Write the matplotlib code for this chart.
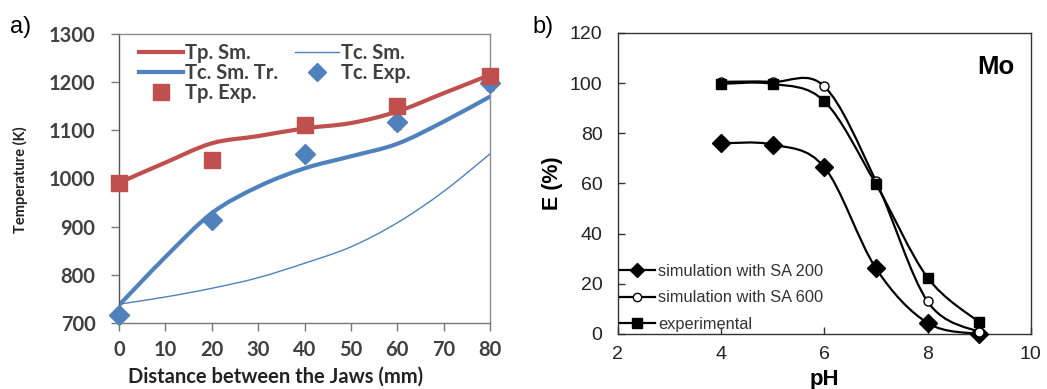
import matplotlib
matplotlib.use('Agg')
import matplotlib.pyplot as plt
from matplotlib.path import Path
from matplotlib.patches import PathPatch
from matplotlib.lines import Line2D
import numpy as np

# ---- panel a data (temperature vs distance) ----
dist_curve = [0, 10, 20, 30, 40, 50, 60, 70, 80]
tp_sm = [991, 1033, 1073, 1088, 1104, 1115, 1139, 1177, 1215]
tc_sm = [739, 754, 772, 794, 824, 858, 908, 973, 1051]
tc_sm_tr = [737, 837, 928, 983, 1021, 1046, 1072, 1118, 1170]

dist_exp = [0, 20, 40, 60, 80]
tp_exp = [991, 1039, 1110, 1151, 1212]
tp_err = [8, 8, 10, 12, 10]
tc_exp = [716, 914, 1051, 1118, 1198]
tc_err = [10, 12, 12, 15, 15]

# ---- panel b data (extraction vs pH) ----
ph = [4, 5, 6, 7, 8, 9]
sa200 = [76, 75.5, 66.5, 26.2, 4.4, 0]
sa600 = [100.5, 100.5, 98.7, 61, 13, 0.7]
exper = [99.7, 99.7, 92.8, 59.8, 22.5, 4.7]

RED = '#C0504D'
BLUE = '#4F81BD'
GRAY_TXT = '#404040'


def smooth_path(x, y):
    # excel-style smoothed line: cubic bezier through the points
    p = np.column_stack([x, y]).astype(float)
    n = len(p)
    verts = [p[0]]
    codes = [Path.MOVETO]
    for i in range(n - 1):
        p0 = p[max(i - 1, 0)]
        p3 = p[min(i + 2, n - 1)]
        c1 = p[i] + (p[i + 1] - p0) / 6.0
        c2 = p[i + 1] - (p3 - p[i]) / 6.0
        verts += [c1, c2, p[i + 1]]
        codes += [Path.CURVE4] * 3
    return Path(np.array(verts), codes)


def add_smooth(ax, x, y, color, lw, zorder=2):
    ax.add_patch(PathPatch(smooth_path(x, y), facecolor='none', edgecolor=color,
                           lw=lw, zorder=zorder, capstyle='round'))


fig = plt.figure(figsize=(10.47, 3.89), dpi=100)

# ================= panel a =================
ax1 = fig.add_axes([0.1137, 0.1697, 0.3543, 0.743])
add_smooth(ax1, dist_curve, tc_sm, BLUE, 1.0)
add_smooth(ax1, dist_curve, tc_sm_tr, BLUE, 3.0)
add_smooth(ax1, dist_curve, tp_sm, RED, 3.0)
eb1 = ax1.errorbar(dist_exp, tc_exp, yerr=tc_err, fmt='D', color=BLUE, ms=10,
                   ecolor='#222222', elinewidth=1.2, capsize=3, zorder=4)
eb2 = ax1.errorbar(dist_exp, tp_exp, yerr=tp_err, fmt='s', color=RED, ms=11.5,
                   ecolor='#222222', elinewidth=1.2, capsize=3, zorder=5)
for eb in (eb1, eb2):
    for art in eb.lines[0:1] + eb.lines[1] + eb.lines[2]:
        art.set_clip_on(False)

ax1.set_xlim(0, 80)
ax1.set_ylim(700, 1300)
ax1.set_xticks(range(0, 81, 10))
ax1.set_yticks(range(700, 1301, 100))
for s in ax1.spines.values():
    s.set_color('#8c8c8c')
    s.set_linewidth(1.0)
ax1.spines['left'].set_color('#555555')
ax1.spines['bottom'].set_color('#777777')
ax1.tick_params(axis='both', direction='out', length=6, width=1, color='#777777',
                labelsize=14.5, labelcolor=GRAY_TXT)
ax1.tick_params(axis='y', pad=11)
ax1.tick_params(axis='x', pad=6)
for lab in ax1.get_xticklabels() + ax1.get_yticklabels():
    lab.set_fontfamily('Lato')
    lab.set_fontweight('bold')
ax1.set_xlabel('Distance between the Jaws (mm)', fontsize=14.5, fontweight='bold',
               family='Lato', color='#222222')
ax1.xaxis.set_label_coords(0.423, -0.15)
ax1.set_ylabel('Temperature (K)', fontsize=10.5, fontweight='bold',
               family='Lato', color='#222222')
ax1.yaxis.set_label_coords(-0.245, 0.495)

h_tpsm = Line2D([], [], color=RED, lw=3.0)
h_tcsm = Line2D([], [], color=BLUE, lw=1.0)
h_tcsmtr = Line2D([], [], color=BLUE, lw=3.0)
h_tcexp = Line2D([], [], color=BLUE, marker='D', ls='none', ms=9)
h_tpexp = Line2D([], [], color=RED, marker='s', ls='none', ms=11)
leg1 = ax1.legend([h_tpsm, h_tcsmtr, h_tpexp, h_tcsm, h_tcexp],
                  ['Tp. Sm.', 'Tc. Sm. Tr.', 'Tp. Exp.', 'Tc. Sm.', 'Tc. Exp.'],
                  ncol=2, loc='upper left', bbox_to_anchor=(0.005, 1.03), frameon=False,
                  prop={'family': 'Lato', 'size': 14.5, 'weight': 'bold'},
                  handlelength=2.2, handletextpad=0.1, columnspacing=0.8,
                  labelspacing=0.0)
for t in leg1.get_texts():
    t.set_color(GRAY_TXT)

# ================= panel b =================
ax2 = fig.add_axes([0.590, 0.1414, 0.3945, 0.774])
add_smooth(ax2, ph, sa200, 'black', 1.6)
add_smooth(ax2, ph, sa600, 'black', 1.6)
add_smooth(ax2, ph, exper, 'black', 1.6)
ax2.plot(ph, sa200, 'D', color='black', ms=9, ls='none', zorder=4, clip_on=False)
ax2.plot(ph, sa600, 'o', mfc='white', mec='black', mew=1.0, ms=6.5, ls='none',
         zorder=4, clip_on=False)
ax2.plot(ph, exper, 's', color='black', ms=7, ls='none', zorder=4, clip_on=False)

ax2.set_xlim(2, 10)
ax2.set_ylim(0, 120)
ax2.set_xticks(range(2, 11, 2))
ax2.set_yticks(range(0, 121, 20))
for s in ax2.spines.values():
    s.set_color('#333333')
    s.set_linewidth(1.0)
ax2.tick_params(axis='both', direction='in', length=5, width=1, color='#333333',
                labelsize=14, labelcolor='#222222')
ax2.tick_params(axis='y', pad=11)
ax2.tick_params(axis='x', pad=9)
for lab in ax2.get_xticklabels() + ax2.get_yticklabels():
    lab.set_fontfamily('Liberation Sans')
ax2.set_xlabel('pH', fontsize=16, fontweight='bold', family='Liberation Sans')
ax2.xaxis.set_label_coords(0.5, -0.115)
ax2.set_ylabel('E (%)', fontsize=15.5, fontweight='bold', family='Liberation Sans')
ax2.yaxis.set_label_coords(-0.133, 0.5)
ax2.text(0.961, 0.887, 'Mo', transform=ax2.transAxes, fontsize=18.5, fontweight='bold',
         family='Liberation Sans', ha='right', va='center')

g_200 = Line2D([], [], color='black', lw=1.6, marker='D', ms=7.5)
g_600 = Line2D([], [], color='black', lw=1.6, marker='o', mfc='white', ms=6)
g_exp = Line2D([], [], color='black', lw=1.6, marker='s', ms=6.5)
leg2 = ax2.legend([g_200, g_600, g_exp],
                  ['simulation with SA 200', 'simulation with SA 600', 'experimental'],
                  loc='lower left', bbox_to_anchor=(-0.011, -0.015), frameon=False,
                  prop={'family': 'Liberation Sans', 'size': 11.8},
                  handlelength=2.13, handletextpad=0.2, labelspacing=0.7,
                  borderaxespad=0.0)
for t in leg2.get_texts():
    t.set_color('#333333')

fig.text(0.010, 0.915, 'a)', fontsize=17, family='Liberation Sans')
fig.text(0.509, 0.915, 'b)', fontsize=17, family='Liberation Sans')

fig.savefig('out.png', dpi=100)
